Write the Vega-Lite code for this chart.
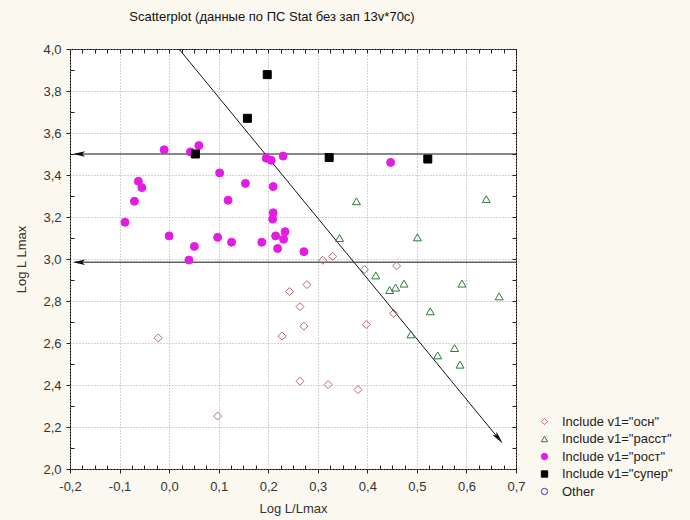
{
  "$schema": "https://vega.github.io/schema/vega-lite/v6.json",
  "width": 446,
  "height": 420,
  "autosize": "none",
  "padding": {"left": 70, "top": 49, "right": 174, "bottom": 51},
  "background": "#fbf8ef",
  "title": {"text": "Scatterplot (данные по ПС Stat без зап 13v*70c)", "fontSize": 13, "fontWeight": "normal", "font": "Liberation Sans", "color": "#111", "offset": 19, "dx": -21, "anchor": "middle"},
  "config": {
    "font": "Liberation Sans",
    "view": {"fill": "white", "stroke": "black", "strokeWidth": 1},
    "legend": {"orient": "none", "legendX": 468, "legendY": 366, "title": null, "symbolSize": 40, "labelFontSize": 13, "labelColor": "#222", "rowPadding": 3.5, "symbolStrokeWidth": 1, "labelOffset": 11}
  },
  "datasets": {
    "lines": [
      {"x": -0.19, "y": 3.5, "x2": 0.7, "y2": 3.5},
      {"x": -0.19, "y": 2.985, "x2": 0.7, "y2": 2.985},
      {"x": 0.02, "y": 4.0, "x2": 0.668, "y2": 2.136}
    ],
    "leftArrows": [
      {"x": -0.182, "y": 3.5},
      {"x": -0.182, "y": 2.985}
    ],
    "diagArrow": [
      {"x": 0.665, "y": 2.146}
    ],
    "points": [
      {"x": -0.01, "y": 3.52, "group": "рост"},
      {"x": 0.043, "y": 3.51, "group": "рост"},
      {"x": 0.06, "y": 3.54, "group": "рост"},
      {"x": 0.196, "y": 3.48, "group": "рост"},
      {"x": 0.206, "y": 3.47, "group": "рост"},
      {"x": 0.23, "y": 3.49, "group": "рост"},
      {"x": 0.102, "y": 3.41, "group": "рост"},
      {"x": -0.062, "y": 3.37, "group": "рост"},
      {"x": -0.055, "y": 3.34, "group": "рост"},
      {"x": 0.154, "y": 3.36, "group": "рост"},
      {"x": 0.21, "y": 3.345, "group": "рост"},
      {"x": -0.07, "y": 3.275, "group": "рост"},
      {"x": 0.119, "y": 3.28, "group": "рост"},
      {"x": 0.21, "y": 3.22, "group": "рост"},
      {"x": 0.209, "y": 3.19, "group": "рост"},
      {"x": -0.089, "y": 3.175, "group": "рост"},
      {"x": 0.234, "y": 3.13, "group": "рост"},
      {"x": 0.0, "y": 3.11, "group": "рост"},
      {"x": 0.098, "y": 3.103, "group": "рост"},
      {"x": 0.215, "y": 3.11, "group": "рост"},
      {"x": 0.231, "y": 3.094, "group": "рост"},
      {"x": 0.126, "y": 3.08, "group": "рост"},
      {"x": 0.187, "y": 3.08, "group": "рост"},
      {"x": 0.219, "y": 3.05, "group": "рост"},
      {"x": 0.051, "y": 3.06, "group": "рост"},
      {"x": 0.04, "y": 2.995, "group": "рост"},
      {"x": 0.272, "y": 3.035, "group": "рост"},
      {"x": 0.447, "y": 3.46, "group": "рост"},
      {"x": 0.198, "y": 3.878, "group": "супер"},
      {"x": 0.158, "y": 3.67, "group": "супер"},
      {"x": 0.053, "y": 3.5, "group": "супер"},
      {"x": 0.323, "y": 3.483, "group": "супер"},
      {"x": 0.522, "y": 3.476, "group": "супер"},
      {"x": 0.378, "y": 3.275, "group": "расст"},
      {"x": 0.64, "y": 3.285, "group": "расст"},
      {"x": 0.344, "y": 3.1, "group": "расст"},
      {"x": 0.501, "y": 3.103, "group": "расст"},
      {"x": 0.417, "y": 2.922, "group": "расст"},
      {"x": 0.445, "y": 2.852, "group": "расст"},
      {"x": 0.457, "y": 2.864, "group": "расст"},
      {"x": 0.474, "y": 2.883, "group": "расст"},
      {"x": 0.591, "y": 2.883, "group": "расст"},
      {"x": 0.666, "y": 2.822, "group": "расст"},
      {"x": 0.527, "y": 2.751, "group": "расст"},
      {"x": 0.488, "y": 2.641, "group": "расст"},
      {"x": 0.576, "y": 2.576, "group": "расст"},
      {"x": 0.542, "y": 2.541, "group": "расст"},
      {"x": 0.587, "y": 2.497, "group": "расст"},
      {"x": 0.31, "y": 2.994, "group": "осн"},
      {"x": 0.33, "y": 3.013, "group": "осн"},
      {"x": 0.394, "y": 2.95, "group": "осн"},
      {"x": 0.459, "y": 2.967, "group": "осн"},
      {"x": 0.278, "y": 2.878, "group": "осн"},
      {"x": 0.243, "y": 2.845, "group": "осн"},
      {"x": 0.264, "y": 2.773, "group": "осн"},
      {"x": 0.453, "y": 2.741, "group": "осн"},
      {"x": 0.272, "y": 2.68, "group": "осн"},
      {"x": 0.398, "y": 2.688, "group": "осн"},
      {"x": 0.228, "y": 2.633, "group": "осн"},
      {"x": 0.264, "y": 2.418, "group": "осн"},
      {"x": 0.321, "y": 2.402, "group": "осн"},
      {"x": 0.381, "y": 2.378, "group": "осн"},
      {"x": -0.022, "y": 2.624, "group": "осн"},
      {"x": 0.098, "y": 2.252, "group": "осн"}
    ]
  },
  "resolve": {"axis": {"x": "independent", "y": "independent"}},
  "layer": [
    {
      "data": {"name": "lines"},
      "mark": {"type": "rule", "color": "#111", "strokeWidth": 1},
      "encoding": {
        "x": {"field": "x", "type": "quantitative",
          "scale": {"domain": [-0.2, 0.7], "nice": false, "zero": false},
          "axis": {
            "title": "Log L/Lmax",
            "values": [-0.2,-0.175,-0.15,-0.125,-0.1,-0.075,-0.05,-0.025,0,0.025,0.05,0.075,0.1,0.125,0.15,0.175,0.2,0.225,0.25,0.275,0.3,0.325,0.35,0.375,0.4,0.425,0.45,0.475,0.5,0.525,0.55,0.575,0.6,0.625,0.65,0.675,0.7],
            "labelExpr": "abs(datum.value*10 - round(datum.value*10)) < 0.001 ? replace(replace(format(datum.value, '.1f'), '.', ','), '−', '-') : ''",
            "grid": true, "gridDash": [1, 2], "gridColor": "#a8a8a8",
            "gridOpacity": {"condition": {"test": "abs(datum.value*10 - round(datum.value*10)) < 0.001", "value": 1}, "value": 0},
            "tickSize": {"condition": {"test": "abs(datum.value*10 - round(datum.value*10)) < 0.001", "value": 4}, "value": -4},
            "tickColor": "#222",
            "domain": false,
            "labelPadding": 7, "labelFontSize": 13, "labelColor": "#333",
            "labelOverlap": false, "labelFlush": false,
            "titleFontSize": 13, "titleFontWeight": "normal", "titleColor": "#333", "titlePadding": 9
          }
        },
        "y": {"field": "y", "type": "quantitative",
          "scale": {"domain": [2, 4], "nice": false, "zero": false},
          "axis": {
            "title": "Log L Lmax",
            "values": [2,2.1,2.2,2.3,2.4,2.5,2.6,2.7,2.8,2.9,3,3.1,3.2,3.3,3.4,3.5,3.6,3.7,3.8,3.9,4],
            "labelExpr": "abs(datum.value*5 - round(datum.value*5)) < 0.001 ? replace(format(datum.value, '.1f'), '.', ',') : ''",
            "grid": true, "gridDash": [1, 2], "gridColor": "#a8a8a8",
            "gridOpacity": {"condition": {"test": "abs(datum.value*5 - round(datum.value*5)) < 0.001", "value": 1}, "value": 0},
            "tickSize": {"condition": {"test": "abs(datum.value*5 - round(datum.value*5)) < 0.001", "value": 4}, "value": -4},
            "tickColor": "#222",
            "domain": false,
            "labelPadding": 5, "labelFontSize": 13, "labelColor": "#333",
            "labelOverlap": false, "labelFlush": false,
            "titleFontSize": 13, "titleFontWeight": "normal", "titleColor": "#333", "titlePadding": 14
          }
        },
        "x2": {"field": "x2"},
        "y2": {"field": "y2"}
      }
    },
    {
      "data": {"name": "points"},
      "mark": {"type": "point", "size": 64, "strokeWidth": 1, "opacity": 1},
      "encoding": {
        "x": {"field": "x", "type": "quantitative",
          "axis": {"orient": "top", "labels": false, "title": null, "grid": false, "domain": false, "tickSize": -4, "tickColor": "#222",
            "values": [-0.2,-0.175,-0.15,-0.125,-0.1,-0.075,-0.05,-0.025,0,0.025,0.05,0.075,0.1,0.125,0.15,0.175,0.2,0.225,0.25,0.275,0.3,0.325,0.35,0.375,0.4,0.425,0.45,0.475,0.5,0.525,0.55,0.575,0.6,0.625,0.65,0.675,0.7]}},
        "y": {"field": "y", "type": "quantitative",
          "axis": {"orient": "right", "labels": false, "title": null, "grid": false, "domain": false, "tickSize": -4, "tickColor": "#222",
            "values": [2,2.1,2.2,2.3,2.4,2.5,2.6,2.7,2.8,2.9,3,3.1,3.2,3.3,3.4,3.5,3.6,3.7,3.8,3.9,4]}},
        "shape": {"field": "group", "type": "nominal",
          "scale": {"domain": ["осн", "расст", "рост", "супер", "Other"], "range": ["diamond", "triangle-up", "circle", "square", "circle"]},
          "legend": {"labelExpr": "datum.label == 'Other' ? 'Other' : 'Include v1=\"' + datum.label + '\"'"}},
        "stroke": {"field": "group", "type": "nominal",
          "scale": {"domain": ["осн", "расст", "рост", "супер", "Other"], "range": ["#b86a6e", "#2f7a35", "#e31ce3", "#000000", "#3a3aa0"]},
          "legend": {"labelExpr": "datum.label == 'Other' ? 'Other' : 'Include v1=\"' + datum.label + '\"'"}},
        "fill": {"field": "group", "type": "nominal",
          "scale": {"domain": ["осн", "расст", "рост", "супер", "Other"], "range": ["transparent", "transparent", "#e31ce3", "#000000", "transparent"]},
          "legend": {"labelExpr": "datum.label == 'Other' ? 'Other' : 'Include v1=\"' + datum.label + '\"'"}}
      }
    },
    {
      "data": {"name": "leftArrows"},
      "mark": {"type": "point", "shape": "M0,-1L0.45,1L0,0.55L-0.45,1Z", "size": 150, "angle": 270, "filled": true, "color": "#111", "opacity": 1},
      "encoding": {
        "x": {"field": "x", "type": "quantitative", "axis": null},
        "y": {"field": "y", "type": "quantitative", "axis": null}
      }
    },
    {
      "data": {"name": "diagArrow"},
      "mark": {"type": "point", "shape": "M0,-1L0.4,1L0,0.55L-0.4,1Z", "size": 170, "angle": 140.6, "filled": true, "color": "#111", "opacity": 1},
      "encoding": {
        "x": {"field": "x", "type": "quantitative", "axis": null},
        "y": {"field": "y", "type": "quantitative", "axis": null}
      }
    }
  ]
}
